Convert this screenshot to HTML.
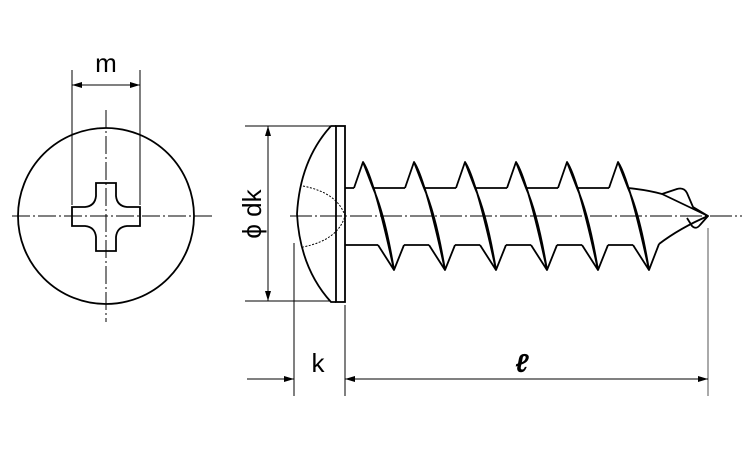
<!DOCTYPE html>
<html><head><meta charset="utf-8"><style>html,body{margin:0;padding:0;background:#fff}svg{display:block}</style></head><body>
<svg width="750" height="450" viewBox="0 0 750 450" xmlns="http://www.w3.org/2000/svg" font-family="Liberation Sans, sans-serif">
<defs>
<marker id="a" viewBox="0 0 10 6" refX="10" refY="3" markerWidth="16" markerHeight="6" markerUnits="userSpaceOnUse" orient="auto"><path d="M0,0L10,3L0,6z" fill="#000"/></marker>
</defs>
<g stroke="#000" fill="none">
<circle cx="106" cy="216" r="88" stroke-width="1.8"/>
<path d="M72,207H85Q95,206 96,196V183H116V196Q117,206 127,207H140V226H127Q117,227 116,237V251H96V237Q95,227 85,226H72Z" stroke-width="1.8"/>
<line x1="12" y1="216" x2="213" y2="216" stroke-width="1" stroke-dasharray="18,3,2,3"/>
<line x1="106" y1="110" x2="106" y2="322" stroke-width="1" stroke-dasharray="18,3,2,3"/>
<line x1="72" y1="70" x2="72" y2="205" stroke-width="1"/>
<line x1="140" y1="70" x2="140" y2="205" stroke-width="1"/>
<line x1="106" y1="85" x2="72" y2="85" stroke-width="1" marker-end="url(#a)"/>
<line x1="106" y1="85" x2="140" y2="85" stroke-width="1" marker-end="url(#a)"/>
<rect x="336" y="126" width="9" height="176" stroke-width="1.8"/>
<path d="M336,126L331,126Q300,160 297,214Q300,268 331,302L336,302" stroke-width="1.8"/>
<path d="M303,186Q338,193 345,216Q338,240 303,247" stroke-width="1" stroke-dasharray="2,1.5"/>
<g stroke-width="1.8" stroke-linejoin="round">
<path d="M345,188H354M345,245H378"/>
<path d="M354,188L363,162Q378,190 394,270M363,162Q374,178 394,270M363,162L373,188Q385,215 394,270M378,245L394,270L404,245M373,188H405M404,245H429"/>
<path d="M405,188L414,162Q429,190 445,270M414,162Q425,178 445,270M414,162L424,188Q436,215 445,270M429,245L445,270L455,245M424,188H456M455,245H480"/>
<path d="M456,188L465,162Q480,190 496,270M465,162Q476,178 496,270M465,162L475,188Q487,215 496,270M480,245L496,270L506,245M475,188H507M506,245H531"/>
<path d="M507,188L516,162Q531,190 547,270M516,162Q527,178 547,270M516,162L526,188Q538,215 547,270M531,245L547,270L557,245M526,188H558M557,245H582"/>
<path d="M558,188L567,162Q582,190 598,270M567,162Q578,178 598,270M567,162L577,188Q589,215 598,270M582,245L598,270L608,245M577,188H609M608,245H633"/>
<path d="M609,188L618,162Q633,190 649,270M618,162Q629,178 649,270M618,162L628,188Q640,215 649,270M633,245L649,270L659,244"/>
<path d="M628,188Q648,190 662,194L677,189Q684,187 687,193L693,207L708,216L700,225Q696,230 692,226L687,218"/>
<path d="M662,194Q685,205 708,216Q680,228 659,244"/>
</g>
<line x1="290" y1="216" x2="742" y2="216" stroke-width="1" stroke-dasharray="22,3,2,3"/>
<line x1="245" y1="126" x2="330" y2="126" stroke-width="1"/>
<line x1="245" y1="301" x2="330" y2="301" stroke-width="1"/>
<line x1="268" y1="214" x2="268" y2="126" stroke-width="1" marker-end="url(#a)"/>
<line x1="268" y1="214" x2="268" y2="301" stroke-width="1" marker-end="url(#a)"/>
<line x1="294" y1="243" x2="294" y2="396" stroke-width="1"/>
<line x1="345" y1="305" x2="345" y2="396" stroke-width="1"/>
<line x1="708" y1="228" x2="708" y2="396" stroke-width="1" stroke="#555"/>
<line x1="247" y1="379" x2="294" y2="379" stroke-width="1" marker-end="url(#a)"/>
<line x1="520" y1="379" x2="345" y2="379" stroke-width="1" marker-end="url(#a)"/>
<line x1="520" y1="379" x2="708" y2="379" stroke-width="1" marker-end="url(#a)"/>
</g>
<g fill="#000" font-size="26">
<text x="106" y="72" text-anchor="middle">m</text>
<text x="318" y="372" text-anchor="middle">k</text>
<text x="522" y="372" text-anchor="middle" font-style="italic" font-weight="bold">ℓ</text>
<text transform="translate(261,214) rotate(-90)" text-anchor="middle">ϕ dk</text>
</g>
</svg>
</body></html>
